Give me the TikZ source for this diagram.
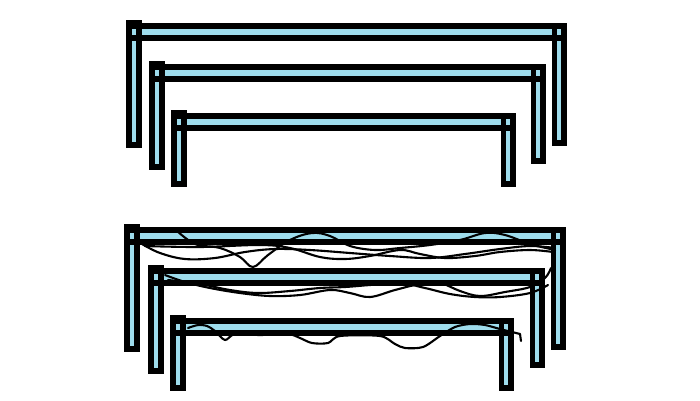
\documentclass[tikz,border=0pt]{standalone}
\definecolor{barblue}{RGB}{158,220,236}
\tikzset{
  barfill/.style={fill=barblue},
  barline/.style={draw=black,line width=5.6pt,line join=miter},
  wire/.style={draw=black,line width=2.1pt,line cap=round,line join=round}
}
\newcommand\benchframe[5]{%
  \fill[barfill] ({#1+2.8},{#3+2.8}) rectangle ({#2-2.8},{#3+14.7});
  \fill[barfill] ({#1+2.8},{#3+0.5}) rectangle ({#1+12.7},{#4-2.8});
  \fill[barfill] ({#2-12.7},{#3+2.8}) rectangle ({#2-2.8},{#5-2.8});
  \draw[barline] ({#1+2.8},{#3+2.8}) rectangle ({#2-2.8},{#3+14.7});
  \draw[barline] ({#1+2.8},{#3-0.2}) rectangle ({#1+12.7},{#4-2.8});
  \draw[barline] ({#2-12.7},{#3+2.8}) rectangle ({#2-2.8},{#5-2.8});
}
\begin{document}
\begin{tikzpicture}[x=1pt,y=-1pt]
\useasboundingbox (0,0) rectangle (700,400);
% top group
\benchframe{126}{567}{23}{148}{146}
\benchframe{149}{546}{64}{170}{164}
\benchframe{171}{516}{113}{187}{187}
% bottom group
\benchframe{124}{566}{227}{352}{350}
\benchframe{148}{545}{268}{374}{368}
\benchframe{170}{514}{318}{391}{391}
% wires frame 1
\draw[wire] plot[smooth,tension=0.6] coordinates {(142,244) (160,253) (185,259) (215,258) (245,252) (275,249) (310,250) (350,253) (390,256) (430,258) (465,254) (500,249) (530,246) (555,248)};
\draw[wire] plot[smooth,tension=0.6] coordinates {(176,230) (195,244) (220,248) (240,257) (253,267) (268,255) (290,240) (312,233) (330,236) (350,246) (375,250) (400,248) (430,245) (460,240) (485,233) (505,235) (530,244) (555,250)};
\draw[wire] plot[smooth,tension=0.6] coordinates {(145,246) (200,247) (260,245) (290,248) (320,257) (345,259) (370,256) (400,250) (420,254) (445,258) (475,256) (500,252) (530,250) (553,252)};
% wires frame 2
\draw[wire] plot[smooth,tension=0.6] coordinates {(165,275) (185,282) (210,288) (240,293) (270,296) (300,295) (330,290) (350,293) (370,297) (395,290) (420,284) (440,283) (460,291) (480,296) (505,292) (530,287) (545,278) (551,268)};
\draw[wire] plot[smooth,tension=0.6] coordinates {(168,280) (200,284) (230,290) (258,293) (290,291) (320,288) (345,287) (370,285) (400,283) (425,288) (450,294) (475,297) (500,297) (530,293) (548,285)};
% wire frame 3
\draw[wire] plot[smooth,tension=0.5] coordinates {(188,328) (198,325) (207,326) (215,331) (225,340) (235,334) (260,335) (288,334) (300,338) (312,343) (328,343) (340,336) (380,336) (395,344) (405,348) (423,347) (440,336) (455,327) (470,324) (485,325) (500,329) (520,334)};
\draw[wire] (520,334) -- (521,341);
\end{tikzpicture}
\end{document}
